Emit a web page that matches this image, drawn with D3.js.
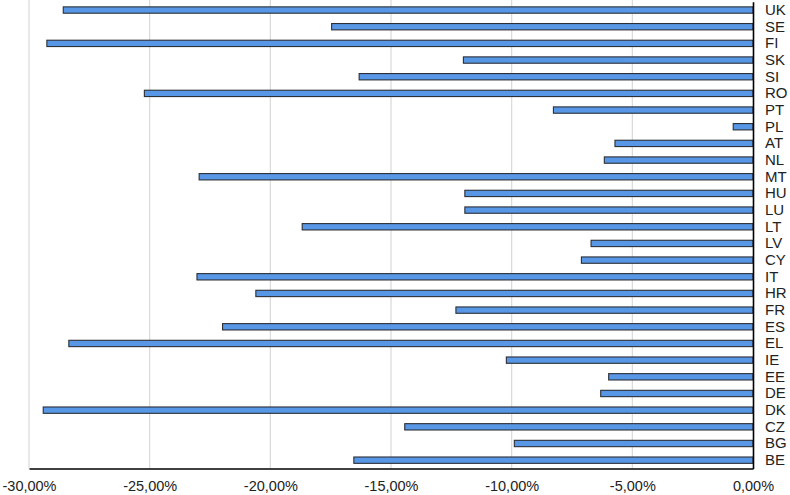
<!DOCTYPE html>
<html>
<head>
<meta charset="utf-8">
<script src="https://cdn.jsdelivr.net/npm/d3@7"></script>
<style>
  html, body { margin: 0; padding: 0; background: #fff; }
  svg { display: block; font-family: "Liberation Sans", Arial, sans-serif; }
</style>
</head>
<body>
<svg id="chart" width="790" height="495"></svg>
<script>
const categories = ["UK","SE","FI","SK","SI","RO","PT","PL","AT","NL","MT","HU","LU","LT","LV","CY","IT","HR","FR","ES","EL","IE","EE","DE","DK","CZ","BG","BE"];
const values = [-28.58,-17.46,-29.26,-12.0,-16.32,-25.22,-8.27,-0.82,-5.72,-6.16,-22.95,-11.94,-11.94,-18.68,-6.71,-7.11,-23.04,-20.6,-12.31,-21.98,-28.35,-10.22,-5.98,-6.31,-29.41,-14.43,-9.89,-16.54];
const tickValues = [-30,-25,-20,-15,-10,-5,0];

const data = categories.map((c, i) => ({ cat: c, val: values[i] }));

const svg = d3.select("#chart");
const mLeft = 29, mRight = 753, mTop = 1.7, mBottom = 468.5;

const x = d3.scaleLinear().domain([-30, 0]).range([mLeft, mRight]);
const y = d3.scaleBand().domain(categories).range([mTop, mBottom]).paddingInner(0.62).paddingOuter(0.31);

// gridlines
svg.append("g").selectAll("line").data(tickValues.slice(0, -1)).join("line")
  .attr("x1", d => x(d)).attr("x2", d => x(d))
  .attr("y1", 0).attr("y2", mBottom)
  .attr("stroke", "#d9d9d9").attr("stroke-width", 1.2);

// bars
svg.append("g").selectAll("rect").data(data).join("rect")
  .attr("x", d => x(d.val))
  .attr("y", d => y(d.cat))
  .attr("width", d => x(0) - x(d.val))
  .attr("height", y.bandwidth())
  .attr("fill", "#5896e6")
  .attr("stroke", "#2b2f36")
  .attr("stroke-width", 1.1);

// x axis
const xAxis = d3.axisBottom(x).tickValues(tickValues).tickSize(0).tickPadding(12)
  .tickFormat(d => d3.format(".2f")(d).replace(".", ",").replace("−", "-") + "%");
const gx = svg.append("g").attr("transform", `translate(0,${mBottom})`).call(xAxis);
gx.select(".domain").attr("stroke", "#000").attr("stroke-width", 1.6);
gx.selectAll("text").attr("font-size", 14.5).attr("fill", "#222").attr("font-family", "Liberation Sans, Arial, sans-serif");

// y axis on right
const yAxis = d3.axisRight(y).tickSize(0).tickPadding(12);
const gy = svg.append("g").attr("transform", `translate(${mRight},0)`).call(yAxis);
gy.select(".domain").attr("stroke", "#000").attr("stroke-width", 1.6);
gy.selectAll("text").attr("font-size", 15).attr("fill", "#222").attr("font-family", "Liberation Sans, Arial, sans-serif");
</script>
</body>
</html>
